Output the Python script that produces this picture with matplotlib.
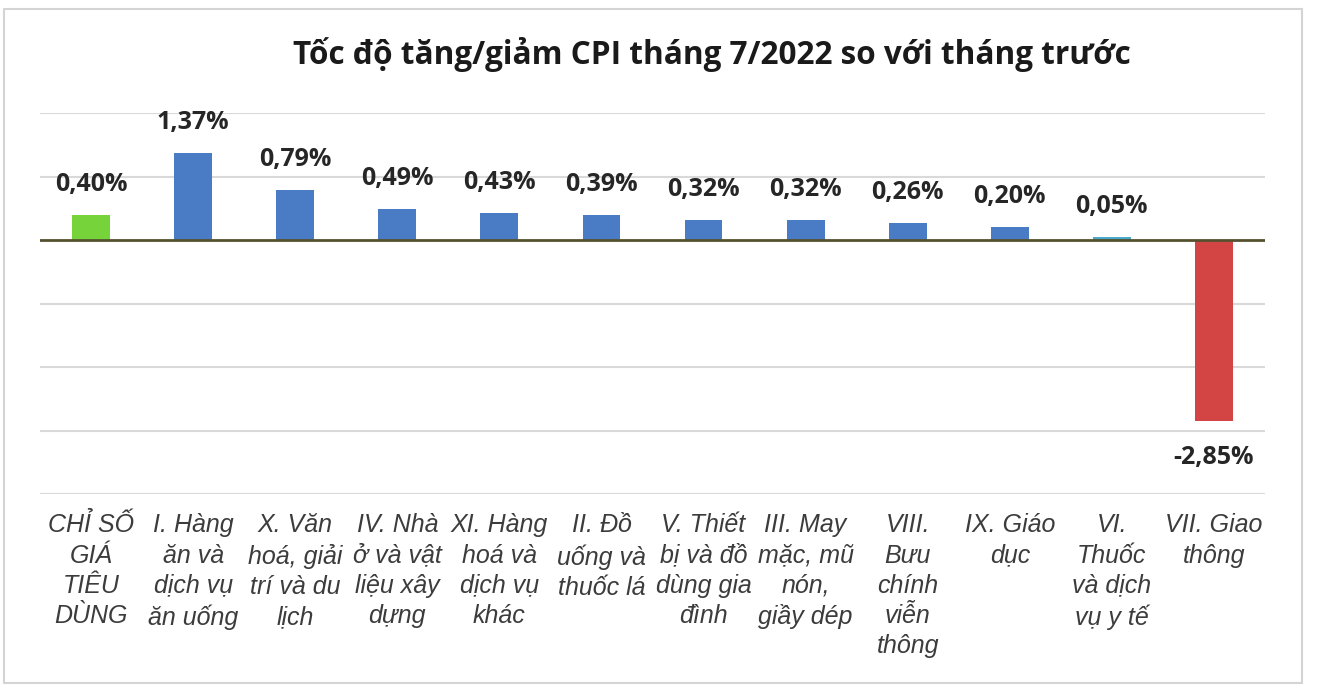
import matplotlib
matplotlib.use("Agg")
import matplotlib.pyplot as plt
from matplotlib.patches import Rectangle

categories = [
    "CHỈ SỐ\nGIÁ\nTIÊU\nDÙNG",
    "I. Hàng\năn và\ndịch vụ\năn uống",
    "X. Văn\nhoá, giải\ntrí và du\nlịch",
    "IV. Nhà\nở và vật\nliệu xây\ndựng",
    "XI. Hàng\nhoá và\ndịch vụ\nkhác",
    "II. Đồ\nuống và\nthuốc lá",
    "V. Thiết\nbị và đồ\ndùng gia\nđình",
    "III. May\nmặc, mũ\nnón,\ngiầy dép",
    "VIII.\nBưu\nchính\nviễn\nthông",
    "IX. Giáo\ndục",
    "VI.\nThuốc\nvà dịch\nvụ y tế",
    "VII. Giao\nthông",
]
values = [0.40, 1.37, 0.79, 0.49, 0.43, 0.39, 0.32, 0.32, 0.26, 0.20, 0.05, -2.85]
colors = ["#76d33a"] + ["#4a7cc5"] * 9 + ["#4aa9c9", "#d24544"]
title = "Tốc độ tăng/giảm CPI tháng 7/2022 so với tháng trước"

W, H = 1320, 695
fig = plt.figure(figsize=(W / 100, H / 100), dpi=100)
fig.patch.set_facecolor("white")

# outer frame
fig.patches.append(Rectangle((4 / W, 1 - 683 / H), (1302 - 4) / W, (683 - 9) / H,
                             transform=fig.transFigure, fill=False,
                             edgecolor="#d4d4d4", lw=1.5))

ax = fig.add_axes([40 / W, 1 - 494 / H, (1265 - 40) / W, (494 - 113) / H])
x = list(range(len(values)))
ax.bar(x, values, width=0.37, color=colors, zorder=3)
ax.set_xlim(-0.5, len(values) - 0.5)
ax.set_ylim(-4, 2)
ax.set_yticks([-4, -3, -2, -1, 1, 2])
ax.yaxis.grid(True, color="#d9d9d9", lw=1.5, zorder=0)
ax.tick_params(axis="y", left=False, labelleft=False)
ax.axhline(0, color="#55512f", lw=2, zorder=4)
for s in ax.spines.values():
    s.set_visible(False)

ax.set_xticks(x)
ax.set_xticklabels(categories, fontfamily="Liberation Sans", fontstyle="italic",
                   fontsize=18, color="#3c3c3c", linespacing=1.32,
                   va="top", ha="center", multialignment="center")
ax.tick_params(axis="x", length=0, pad=14)

for xi, v in zip(x, values):
    lab = f"{v:.2f}%".replace(".", ",")
    off = 22 if v >= 0 else -26
    ax.annotate(lab, (xi, v), xytext=(0, off), textcoords="offset points",
                ha="center", va="center", fontsize=18, fontweight="bold",
                fontfamily="Open Sans", color="#262626")

fig.text(712 / W, 1 - 55 / H, title, ha="center", va="center",
         fontsize=22.7, fontweight="bold", fontfamily="Open Sans", color="#1a1a1a")

fig.savefig("out.png", dpi=100, facecolor="white")
